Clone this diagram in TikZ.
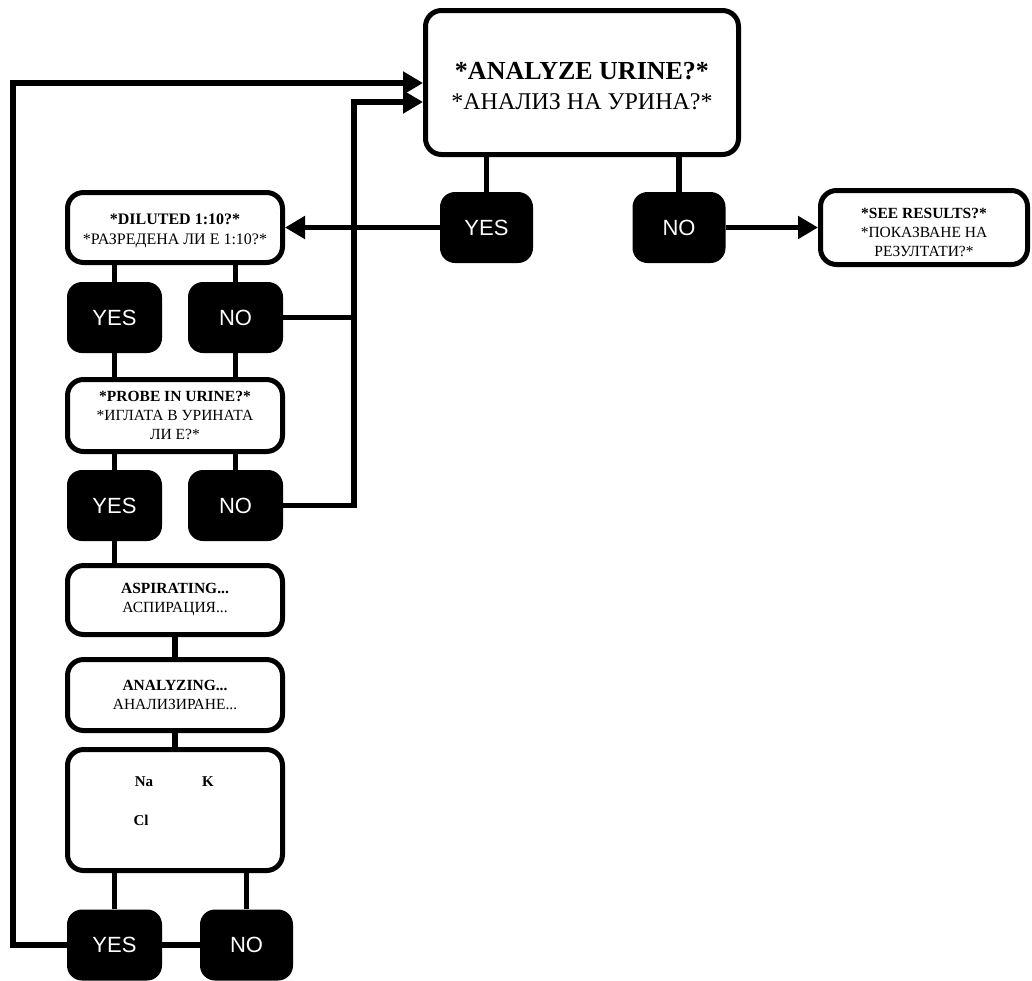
\documentclass[tikz,border=0pt]{standalone}
\usepackage{fontspec}
\setmainfont{Liberation Serif}
\newfontfamily\timesf{Liberation Serif}
\newfontfamily\arialf{Liberation Sans}
\usetikzlibrary{arrows.meta}
\begin{document}
\begin{tikzpicture}[x=1pt,y=-1pt,
  wbox/.style={draw, line width=5pt, rounded corners=16pt, fill=white, align=center, inner sep=0pt, minimum width=215pt},
  bbox/.style={fill=black, rounded corners=15pt, text=white, font=\arialf\fontsize{22}{24}\selectfont, minimum width=95pt, minimum height=71pt, inner sep=0pt},
  conn/.style={line width=5.5pt},
  arr/.style={line width=5.5pt, -{Triangle[length=20pt,width=22pt]}},
  small/.style={font=\timesf\fontsize{15.5}{19}\selectfont},
  elem/.style={font=\timesf\bfseries\fontsize{15}{18}\selectfont, inner sep=0pt}
]
\useasboundingbox (0,0) rectangle (1032,980);

% top row
\node[wbox, minimum width=313pt, minimum height=144pt, font=\timesf\fontsize{24}{30}\selectfont] (main) at (582,82.5)
  {\rule{0pt}{0pt}\\[-6.6pt]{\bfseries\fontsize{26}{30}\selectfont *ANALYZE URINE?*}\\*АНАЛИЗ НА УРИНА?*};
\node[bbox, minimum width=93pt] (yesA) at (486.5,227.5) {YES};
\node[bbox, minimum width=93pt] (noA) at (679,227.5) {NO};
\node[wbox, small, minimum width=207pt, minimum height=74pt] (see) at (924,227.5)
  {\rule{0pt}{0pt}\\[1.5pt]{\bfseries *SEE RESULTS?*}\\*ПОКАЗВАНЕ НА\\РЕЗУЛТАТИ?*};

% left column
\node[wbox, minimum height=70pt, font=\timesf\fontsize{16}{20}\selectfont] (dil) at (175,227.5)
  {\rule{0pt}{0pt}\\[-3.4pt]{\bfseries *DILUTED 1:10?*}\\*РАЗРЕДЕНА ЛИ Е 1:10?*};
\node[bbox] (yes1) at (114.5,317.5) {YES};
\node[bbox] (no1) at (235.5,317.5) {NO};
\node[wbox, small, minimum height=72pt] (probe) at (175,415.5)
  {{\bfseries *PROBE IN URINE?*}\\*ИГЛАТА В УРИНАТА\\ЛИ Е?*};
\node[bbox] (yes2) at (114.5,505.5) {YES};
\node[bbox] (no2) at (235.5,505.5) {NO};
\node[wbox, small, minimum height=69pt] (asp) at (175,600)
  {{\bfseries ASPIRATING...}\\АСПИРАЦИЯ...};
\node[wbox, small, minimum height=71pt] (ana) at (175,695)
  {{\bfseries ANALYZING...}\\АНАЛИЗИРАНЕ...};
\node[wbox, minimum height=121pt] (res) at (175,810) {};
\node[elem] (na) at (144,782) {Na};
\node[elem] (k) at (208,782) {K};
\node[elem] (cl) at (141,820) {Cl};
\node[bbox] (yes3) at (114.5,945) {YES};
\node[bbox, minimum width=93pt] (no3) at (246.5,945) {NO};

% helper coordinates
\coordinate (j) at (354,102);
\coordinate (lo) at (13,83);

% stems
\draw[conn] (yesA.north) -- (yesA.north |- main.south);
\draw[conn] (noA.north) -- (noA.north |- main.south);
\draw[conn] (yes1.north) -- (yes1.north |- dil.south);
\draw[conn] (no1.north) -- (no1.north |- dil.south);
\draw[conn] (yes1.south) -- (yes1.south |- probe.north);
\draw[conn] (no1.south) -- (no1.south |- probe.north);
\draw[conn] (yes2.north) -- (yes2.north |- probe.south);
\draw[conn] (no2.north) -- (no2.north |- probe.south);
\draw[conn] (yes2.south) -- (yes2.south |- asp.north);
\draw[conn] (asp.south) -- (ana.north);
\draw[conn] (ana.south) -- (res.north);
\draw[conn] (yes3.north) -- (yes3.north |- res.south);
\draw[conn] (no3.north) -- (no3.north |- res.south);
\draw[conn] (yes3.east) -- (no3.west);

% arrows
\draw[arr] (yesA.west) -- (dil.east);
\draw[arr] (noA.east) -- (see.west);
\draw[conn] (no1.east) -- (no1.east -| j);
\draw[arr] (no2.east) -| (j) -- (j -| main.west);
\draw[arr] (yes3.west) -| (lo) -- (lo -| main.west);
\end{tikzpicture}
\end{document}
